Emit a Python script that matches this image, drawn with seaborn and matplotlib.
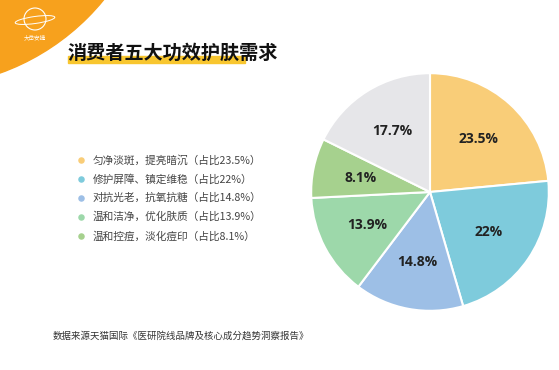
import seaborn as sns
import matplotlib.pyplot as plt
from matplotlib.patches import Circle, Ellipse, Rectangle

# data
labels = ['匀净淡斑，提亮暗沉', '修护屏障、镇定维稳', '对抗光老，抗氧抗糖',
          '温和洁净，优化肤质', '温和控痘，淡化痘印', '其他']
shares = [23.5, 22, 14.8, 13.9, 8.1, 17.7]
colors = ['#F9CD78', '#7ECBDC', '#9DBFE6', '#9DD8AA', '#A6D18E', '#E6E6E9']
legend_text = ['匀净淡斑，提亮暗沉（占比23.5%）', '修护屏障、镇定维稳（占比22%）',
               '对抗光老，抗氧抗糖（占比14.8%）', '温和洁净，优化肤质（占比13.9%）',
               '温和控痘，淡化痘印（占比8.1%）']
title = '消费者五大功效护肤需求'
source = '数据来源天猫国际《医研院线品牌及核心成分趋势洞察报告》'

sns.set_theme(style='white')
plt.rcParams['font.family'] = ['Noto Sans CJK SC', 'DejaVu Sans']

W, H = 559, 370
fig = plt.figure(figsize=(W / 100, H / 100), dpi=100)
fig.patch.set_facecolor('white')

# background layer in pixel coords (y down)
bg = fig.add_axes([0, 0, 1, 1])
bg.set_xlim(0, W)
bg.set_ylim(H, 0)
bg.axis('off')
bg.add_patch(Circle((-80, -150), 237, color='#F7A11D', zorder=1))
# logo
bg.add_patch(Circle((35, 19), 11, fill=False, ec='white', lw=0.8, zorder=2))
bg.add_patch(Ellipse((35, 20), 40, 7, angle=-8, fill=False, ec='white', lw=0.7, zorder=2))
bg.text(35, 37, '大岳安捷', fontsize=4, color='white', ha='center', va='center', zorder=2)

# title with highlight bar
bg.add_patch(Rectangle((68, 56), 177, 7, color='#F8C62F', zorder=2))
bg.text(68, 53, title, fontsize=13.8, fontweight='bold', color='#111111',
        ha='left', va='center', zorder=3)

# legend
ys = [160, 179, 198, 217, 236]
for i, (txt, y) in enumerate(zip(legend_text, ys)):
    bg.scatter([81], [y], s=22, color=colors[i], zorder=3, linewidths=0)
    bg.text(93, y, txt, fontsize=7.7, color='#444444', ha='left', va='center', zorder=3)

bg.text(53, 336, source, fontsize=6.8, color='#333333', ha='left', va='center', zorder=3)

# pie
ax = fig.add_axes([310 / W, (H - 312) / H, 240 / W, 240 / H])
wedges, texts, autotexts = ax.pie(
    shares, colors=colors, startangle=90, counterclock=False,
    autopct=lambda p: f'{p:.1f}'.rstrip('0').rstrip('.') + '%',
    pctdistance=0.6,
    wedgeprops=dict(edgecolor='white', linewidth=1.5),
    textprops=dict(fontsize=10, fontweight='bold', color='#222222',
                   family=['Open Sans', 'DejaVu Sans']))
ax.set_xlim(-1.01, 1.01)
ax.set_ylim(-1.01, 1.01)
ax.set_aspect('equal')

fig.savefig('out.png', dpi=100)
